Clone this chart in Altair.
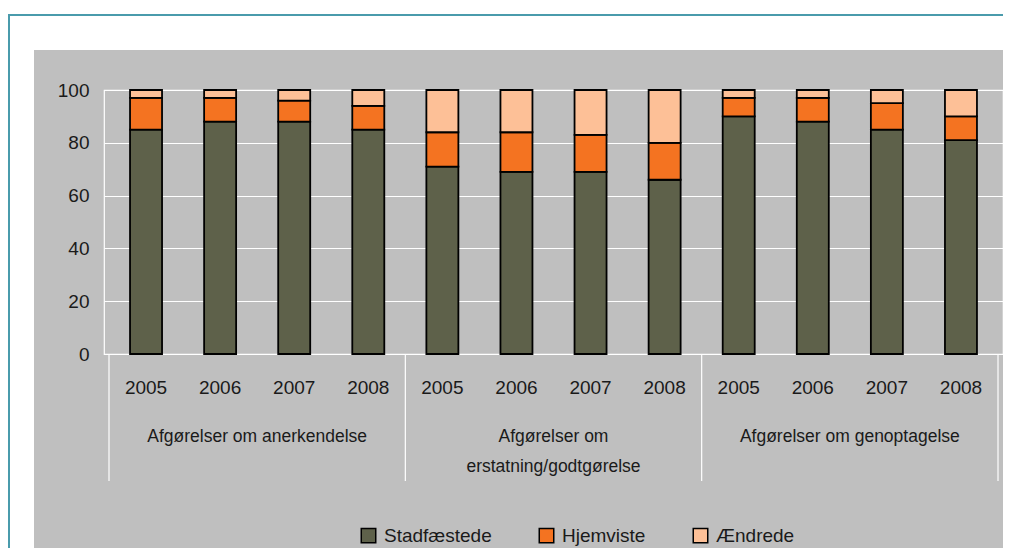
import altair as alt
import pandas as pd

# ---- data ----
group_line1 = ["Afgørelser om anerkendelse", "Afgørelser om", "Afgørelser om genoptagelse"]
group_line2 = ["", "erstatning/godtgørelse", ""]
years = ["2005", "2006", "2007", "2008"]
series = ["Stadfæstede", "Hjemviste", "Ændrede"]
stadfaestede = [85, 88, 88, 85, 71, 69, 69, 66, 90, 88, 85, 81]
hjemviste = [12, 9, 8, 9, 13, 15, 14, 14, 7, 9, 10, 9]
aendrede = [3, 3, 4, 6, 16, 16, 17, 20, 3, 3, 5, 10]
y_ticks = [0, 20, 40, 60, 80, 100]

colors = ["#5e614a", "#f47321", "#fdc097"]
FONT = "Liberation Sans, Arial, sans-serif"
TXT = "#1a1a1a"

rows = []
for i in range(12):
    for k, vals in enumerate([stadfaestede, hjemviste, aendrede]):
        rows.append({"pos": i + 0.5, "serie": series[k], "rank": k, "value": vals[i]})
bars_df = pd.DataFrame(rows)

years_df = pd.DataFrame({"pos": [i + 0.5 for i in range(12)], "year": [years[i % 4] for i in range(12)]})
groups_df = pd.DataFrame({"pos": [2, 6, 10], "l1": group_line1, "l2": group_line2})
sep_df = pd.DataFrame({"pos": [0, 4, 8, 12]})
one = pd.DataFrame({"a": [0]})

xs = alt.Scale(domain=[0, 12], nice=False, zero=False)

bars = alt.Chart(bars_df).mark_bar(size=32, stroke="black", strokeWidth=1.8).encode(
    x=alt.X("pos:Q", scale=xs, axis=None),
    y=alt.Y("value:Q", stack="zero", scale=alt.Scale(domain=[0, 100], nice=False),
            axis=alt.Axis(values=y_ticks, grid=True, gridColor="white", gridWidth=1.2,
                          domain=False, ticks=False, labelPadding=15, title=None,
                          labelFontSize=19, labelColor=TXT, labelFont=FONT)),
    color=alt.Color("serie:N", scale=alt.Scale(domain=series, range=colors),
                    legend=alt.Legend(title=None, orient="none", legendX=255, legendY=436,
                                      direction="horizontal", symbolType="square",
                                      symbolSize=210, symbolStrokeColor="black",
                                      symbolStrokeWidth=1.5, labelFontSize=19,
                                      labelFont=FONT, labelColor=TXT, columnPadding=44,
                                      labelOffset=6, padding=0, symbolOpacity=1)),
    order=alt.Order("rank:Q"),
)

year_text = alt.Chart(years_df).mark_text(fontSize=19, font=FONT, color=TXT, baseline="middle").encode(
    x=alt.X("pos:Q", scale=xs, axis=None), y=alt.value(298), text="year:N")

g1 = alt.Chart(groups_df).mark_text(fontSize=17.5, font=FONT, color=TXT, baseline="middle").encode(
    x=alt.X("pos:Q", scale=xs, axis=None), y=alt.value(347), text="l1:N")
g2 = alt.Chart(groups_df).mark_text(fontSize=17.5, font=FONT, color=TXT, baseline="middle").encode(
    x=alt.X("pos:Q", scale=xs, axis=None), y=alt.value(377), text="l2:N")

seps = alt.Chart(sep_df).mark_rule(color="white", strokeWidth=1.2).encode(
    x=alt.X("pos:Q", scale=xs, axis=None), y=alt.value(264), y2=alt.value(391))

# white surround outside the grey panel, and the teal frame (decoration)
white_top = alt.Chart(one).mark_rule(color="white", strokeWidth=42).encode(
    x=alt.value(-96), x2=alt.value(905), y=alt.value(-61))
white_left = alt.Chart(one).mark_rule(color="white", strokeWidth=26).encode(
    x=alt.value(-83), y=alt.value(-82), y2=alt.value(460))
frame_v = alt.Chart(one).mark_rule(color="#4a9bac", strokeWidth=2).encode(
    x=alt.value(-95), y=alt.value(-76), y2=alt.value(460))
frame_h = alt.Chart(one).mark_rule(color="#4a9bac", strokeWidth=2).encode(
    x=alt.value(-96), x2=alt.value(905), y=alt.value(-75))

chart = alt.layer(white_top, white_left, frame_v, frame_h, seps, bars, year_text, g1, g2).properties(
    width=899, height=264,
    autosize=alt.AutoSizeParams(type="none"),
    padding={"left": 96, "top": 82, "right": 0, "bottom": 194},
    background="#bfbfbf",
).configure_view(stroke="white", strokeWidth=1.2)

chart.save("out.html", embed_options={"renderer": "svg", "actions": False})
